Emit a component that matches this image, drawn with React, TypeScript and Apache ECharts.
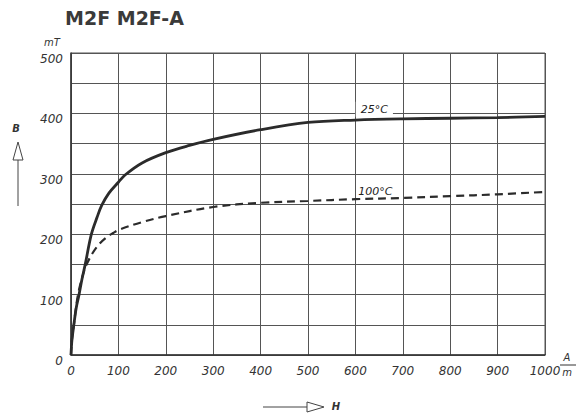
import React, { useEffect, useRef } from "react";
import * as echarts from "echarts";

const title = "M2F M2F-A";
const xTicks = [0, 100, 200, 300, 400, 500, 600, 700, 800, 900, 1000];
const yTicks = [0, 100, 200, 300, 400, 500];
const curve25: [number, number][] = [
  [0, 0], [2, 25], [6, 50], [11, 78], [17, 100], [23, 125], [30, 150], [43, 200],
  [55, 228], [65, 248], [80, 268], [100, 286], [114, 298], [150, 318], [200, 335],
  [250, 347], [300, 357], [400, 373], [500, 385], [600, 389], [700, 391], [800, 392],
  [900, 393], [1000, 395],
];
const curve100: [number, number][] = [
  [0, 0], [2, 25], [6, 50], [13, 92], [19, 115], [26, 135], [33, 150], [45, 168],
  [60, 184], [75, 195], [89, 202], [100, 207], [150, 220], [200, 230], [300, 245],
  [400, 252], [500, 255], [600, 258], [700, 260], [800, 263], [900, 266], [1000, 270],
];
const label25 = { text: "25°C", at: [640, 407] };
const label100 = { text: "100°C", at: [642, 271] };

export default function App() {
  const ref = useRef<HTMLDivElement>(null);
  useEffect(() => {
    if (!ref.current) return;
    const chart = echarts.init(ref.current, null, { renderer: "svg" });
    const ink = "#2b2b2b";
    const gridC = "#555";
    const tickFont = { fontFamily: "DejaVu Sans", fontStyle: "italic" as const, fontSize: 12, color: "#333" };
    chart.setOption({
      animation: false,
      backgroundColor: "#fff",
      grid: { left: 71, right: 41, top: 53, bottom: 64, show: true, borderColor: gridC, borderWidth: 1 },
      xAxis: {
        type: "value", min: 0, max: 1000, interval: 100,
        axisLine: { show: true, lineStyle: { color: "#333", width: 1.5 } },
        axisTick: { show: false },
        splitLine: { show: true, lineStyle: { color: gridC, width: 1 } },
        axisLabel: { ...tickFont, margin: 10, formatter: (v: number) => (xTicks.includes(v) ? String(v) : "") },
      },
      yAxis: {
        type: "value", min: 0, max: 500, interval: 50,
        axisLine: { show: true, lineStyle: { color: "#333", width: 1.5 } },
        axisTick: { show: false },
        splitLine: { show: true, lineStyle: { color: gridC, width: 1 } },
        axisLabel: {
          ...tickFont, margin: 8, verticalAlign: "top",
          formatter: (v: number) => (yTicks.includes(v) ? String(v) : ""),
        },
      },
      series: [
        {
          type: "line", data: curve25, smooth: 0.35, showSymbol: false,
          lineStyle: { color: ink, width: 2.8 },
          markPoint: {
            symbol: "circle", symbolSize: 0,
            data: [{ coord: label25.at, value: label25.text }],
            label: {
              show: true, formatter: label25.text, fontFamily: "DejaVu Sans", fontStyle: "italic",
              fontSize: 11, color: "#222", backgroundColor: "#fff", padding: [1, 5, 3, 5],
            },
          },
        },
        {
          type: "line", data: curve100, smooth: 0.35, showSymbol: false,
          lineStyle: { color: ink, width: 2.2, type: [8, 5] },
          markPoint: {
            symbol: "circle", symbolSize: 0,
            data: [{ coord: label100.at, value: label100.text }],
            label: {
              show: true, formatter: label100.text, fontFamily: "DejaVu Sans", fontStyle: "italic",
              fontSize: 11, color: "#222",
            },
          },
        },
      ],
      graphic: [
        { type: "text", left: 65, top: 8, style: { text: title, font: "bold 19px 'DejaVu Sans'", fill: "#3a3a3a" } },
        { type: "text", x: 52, y: 42, style: { text: "mT", font: "italic 10px 'DejaVu Sans'", fill: "#333", align: "center", verticalAlign: "middle" } },
        { type: "text", x: 567, y: 357, style: { text: "A", font: "italic 10px 'DejaVu Sans'", fill: "#333", align: "center", verticalAlign: "middle" } },
        { type: "line", shape: { x1: 560, y1: 365, x2: 576, y2: 365 }, style: { stroke: "#333", lineWidth: 1 } },
        { type: "text", x: 567, y: 372, style: { text: "m", font: "italic 10px 'DejaVu Sans'", fill: "#333", align: "center", verticalAlign: "middle" } },
        { type: "text", x: 16, y: 128, style: { text: "B", font: "italic bold 10px 'DejaVu Sans'", fill: "#333", align: "center", verticalAlign: "middle" } },
        { type: "line", shape: { x1: 18, y1: 160, x2: 18, y2: 206 }, style: { stroke: "#444", lineWidth: 1 } },
        { type: "polygon", shape: { points: [[13, 160], [23, 160], [18, 142]] }, style: { stroke: "#444", fill: "#fff", lineWidth: 1 } },
        { type: "line", shape: { x1: 263, y1: 407, x2: 307, y2: 407 }, style: { stroke: "#444", lineWidth: 1 } },
        { type: "polygon", shape: { points: [[307, 402], [307, 412], [324, 407]] }, style: { stroke: "#444", fill: "#fff", lineWidth: 1 } },
        { type: "text", x: 336, y: 406, style: { text: "H", font: "italic bold 10px 'DejaVu Sans'", fill: "#333", align: "center", verticalAlign: "middle" } },
      ],
    });
    return () => chart.dispose();
  }, []);
  return <div ref={ref} style={{ position: "fixed", left: 0, top: 0, width: 586, height: 419 }} />;
}
